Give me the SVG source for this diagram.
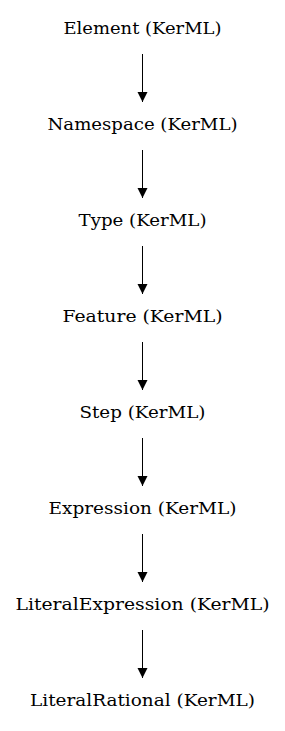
<svg xmlns="http://www.w3.org/2000/svg" width="285" height="731" viewBox="0 0 285 731">
<style>
text{font-family:"DejaVu Serif","Liberation Serif",serif;font-size:17.5px;text-anchor:middle;fill:#000}
.e{stroke:#000;stroke-width:1;fill:none}
</style>
<defs><marker id="a" markerWidth="10" markerHeight="14" refX="10" refY="5" orient="auto" markerUnits="userSpaceOnUse" viewBox="0 0 10 10"><path d="M0,0L10,5L0,10z" fill="#000"/></marker></defs>
<rect width="285" height="731" fill="#fff"/>
<g id="n1"><text x="142.5" y="34" textLength="158" lengthAdjust="spacingAndGlyphs">Element (KerML)</text></g>
<g id="n2"><text x="142.5" y="130" textLength="190" lengthAdjust="spacingAndGlyphs">Namespace (KerML)</text></g>
<g id="n3"><text x="142.5" y="226" textLength="128" lengthAdjust="spacingAndGlyphs">Type (KerML)</text></g>
<g id="n4"><text x="142.5" y="322" textLength="160" lengthAdjust="spacingAndGlyphs">Feature (KerML)</text></g>
<g id="n5"><text x="142.5" y="418" textLength="126" lengthAdjust="spacingAndGlyphs">Step (KerML)</text></g>
<g id="n6"><text x="142.5" y="514" textLength="188" lengthAdjust="spacingAndGlyphs">Expression (KerML)</text></g>
<g id="n7"><text x="142.5" y="610" textLength="254" lengthAdjust="spacingAndGlyphs">LiteralExpression (KerML)</text></g>
<g id="n8"><text x="142.5" y="706" textLength="225" lengthAdjust="spacingAndGlyphs">LiteralRational (KerML)</text></g>
<g id="edges">
<path class="e" d="M142.5,54V102" marker-end="url(#a)"/>
<path class="e" d="M142.5,150V198" marker-end="url(#a)"/>
<path class="e" d="M142.5,246V294" marker-end="url(#a)"/>
<path class="e" d="M142.5,342V390" marker-end="url(#a)"/>
<path class="e" d="M142.5,438V486" marker-end="url(#a)"/>
<path class="e" d="M142.5,534V582" marker-end="url(#a)"/>
<path class="e" d="M142.5,630V678" marker-end="url(#a)"/>
</g>
</svg>
